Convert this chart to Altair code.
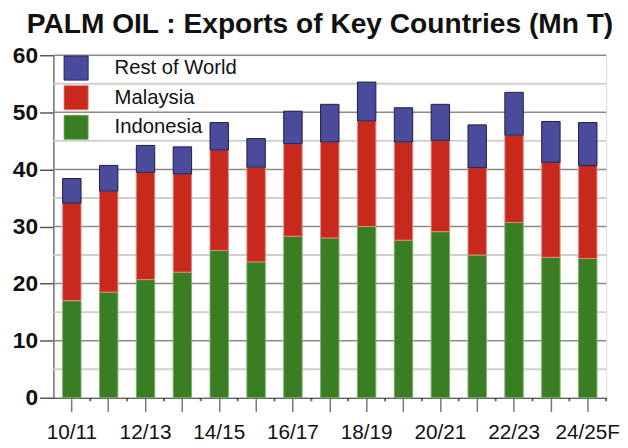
import altair as alt
import pandas as pd

seasons = ["10/11", "11/12", "12/13", "13/14", "14/15", "15/16", "16/17", "17/18",
           "18/19", "19/20", "20/21", "21/22", "22/23", "23/24", "24/25F"]
indonesia = [17.0, 18.5, 20.7, 22.0, 25.8, 23.8, 28.3, 28.0, 30.0, 27.6, 29.1, 25.0, 30.7, 24.6, 24.4]
malaysia = [17.1, 17.7, 18.8, 17.2, 17.6, 16.6, 16.2, 16.8, 18.5, 17.2, 16.0, 15.3, 15.3, 16.65, 16.3]
rest_of_world = [4.3, 4.5, 4.7, 4.75, 4.8, 5.0, 5.7, 6.6, 6.8, 6.0, 6.3, 7.5, 7.5, 7.15, 7.5]
shown_labels = ["10/11", "12/13", "14/15", "16/17", "18/19", "20/21", "22/23", "24/25F"]

series = ["Rest of World", "Malaysia", "Indonesia"]
fills = ["#4b4b9c", "#c8291d", "#3a7e24"]
strokes = ["#1c1c40", "#e08a84", "#7fae6e"]

rows = []
for i, s in enumerate(seasons):
    rows.append({"season": s, "series": "Indonesia", "value": indonesia[i], "order": 0})
    rows.append({"season": s, "series": "Malaysia", "value": malaysia[i], "order": 1})
    rows.append({"season": s, "series": "Rest of World", "value": rest_of_world[i], "order": 2})
df = pd.DataFrame(rows)

label_expr = "indexof(" + str(shown_labels).replace("'", '"') + ", datum.value) >= 0 ? datum.label : ''"

xscale = alt.Scale(domain=seasons, paddingInner=0.5, paddingOuter=0.25)
xaxis = alt.Axis(labelExpr=label_expr, labelAngle=0, labelFont="Liberation Sans",
                 labelFontSize=21, labelColor="#111", labelPadding=10,
                 tickSize=14, tickColor="#777", tickWidth=1.5,
                 domainColor="#333", domainWidth=1.2, grid=False, orient="bottom")

bars = alt.Chart(df).mark_bar(strokeWidth=1).encode(
    x=alt.X("season:N", sort=seasons, scale=xscale, title=None, axis=xaxis),
    y=alt.Y("value:Q", stack="zero", scale=alt.Scale(domain=[0, 60], nice=False),
            title=None,
            axis=alt.Axis(values=[0, 10, 20, 30, 40, 50, 60], labelFont="Liberation Sans",
                          labelFontWeight="bold", labelFontSize=23, labelColor="#111",
                          tickSize=14, tickColor="#555", tickWidth=1.5, labelPadding=2,
                          domainColor="#555", domainWidth=1.2,
                          grid=False)),
    color=alt.Color("series:N", scale=alt.Scale(domain=series, range=fills),
                    legend=alt.Legend(title=None, orient="none", legendX=10, legendY=0,
                                      symbolType="square", symbolSize=600,
                                      symbolStrokeColor="#444", symbolStrokeWidth=0.8,
                                      labelFont="Liberation Sans", labelFontSize=20.5,
                                      labelColor="#111", labelOffset=26, rowPadding=2,
                                      symbolOpacity=1)),
    stroke=alt.Stroke("series:N", scale=alt.Scale(domain=series, range=strokes), legend=None),
    order=alt.Order("order:Q"),
)

# minor gridlines (every 5) and major gridlines (every 10)
minor_vals = pd.DataFrame({"v": [5, 15, 25, 35, 45, 55]})
major_vals = pd.DataFrame({"v": [10, 20, 30, 40, 50, 60]})
minor_grid = alt.Chart(minor_vals).mark_rule(color="#cfcfcf", strokeWidth=2).encode(
    y=alt.Y("v:Q"), x=alt.value(0), x2=alt.value(560))
major_grid = alt.Chart(major_vals).mark_rule(color="#8a8a8a", strokeWidth=1.5).encode(
    y=alt.Y("v:Q"), x=alt.value(0), x2=alt.value(560))

# small tick dots between bars
between = alt.Chart(pd.DataFrame({"season": seasons})).mark_tick(
    color="#222", thickness=2, size=3, orient="vertical", xOffset=9.3).encode(
    x=alt.X("season:N", sort=seasons, scale=xscale, bandPosition=1, title=None, axis=xaxis),
    y=alt.value(349))

chart = alt.layer(minor_grid, major_grid, bars, between).properties(
    width=560, height=347,
    autosize=alt.AutoSizeParams(type="none"),
    padding={"left": 46, "top": 45, "right": 14, "bottom": 45},
    title=alt.TitleParams("PALM OIL : Exports of Key Countries (Mn T)", font="Liberation Sans",
                          fontSize=28.5, fontWeight="bold", color="#111", anchor="start",
                          frame="group", dx=-27, offset=6),
).configure_view(stroke=None).configure(background="white")

chart.save("out.html", embed_options={"renderer": "svg", "actions": False})
